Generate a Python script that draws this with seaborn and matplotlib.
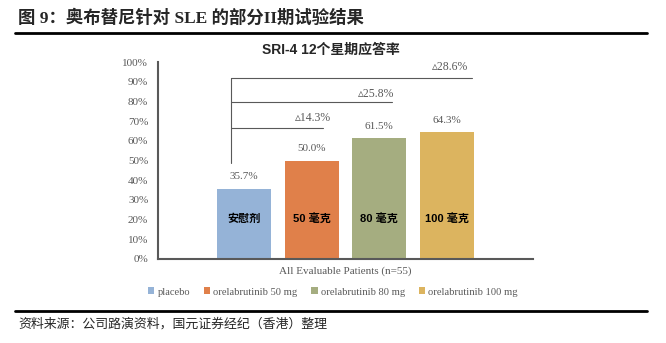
import matplotlib
matplotlib.use('Agg')
import matplotlib.pyplot as plt
import seaborn as sns
import pandas as pd
from matplotlib.patches import Patch
from matplotlib.lines import Line2D

# ---- data ----
categories = ['placebo', 'orelabrutinib 50 mg', 'orelabrutinib 80 mg', 'orelabrutinib 100 mg']
values = [35.7, 50.0, 61.5, 64.3]
bar_labels = ['安慰剂', '50 毫克', '80 毫克', '100 毫克']
delta_labels = ['▵14.3%', '▵25.8%', '▵28.6%']
yticks = [0, 10, 20, 30, 40, 50, 60, 70, 80, 90, 100]
ytick_labels = [f'{v}%' for v in yticks]
colors = ['#95B3D7', '#E0804A', '#A5AD80', '#DCB45F']

title = '图 9：奥布替尼针对 SLE 的部分II期试验结果'
chart_title = 'SRI-4 12个星期应答率'
xlabel = 'All Evaluable Patients (n=55)'
source = '资料来源：公司路演资料，国元证券经纪（香港）整理'

sns.set_style('white')
plt.rcParams['font.family'] = ['Liberation Serif', 'Noto Sans CJK SC', 'DejaVu Sans']

W, H = 666, 343
fig = plt.figure(figsize=(W / 100, H / 100), dpi=100)
ax = fig.add_axes([158 / W, 1 - 259 / H, 375 / W, 197 / H])

df = pd.DataFrame({'group': categories, 'value': values})
sns.barplot(data=df, x='group', y='value', hue='group', palette=colors,
            dodge=False, width=0.8, saturation=1, legend=False, ax=ax,
            linewidth=0)

ax.set_xlim(-1.27, 4.27)
ax.set_ylim(0, 100)
ax.set_yticks(yticks)
ax.set_yticklabels(ytick_labels)
ax.set_xticks([])
ax.set_ylabel('')
ax.set_xlabel(xlabel, fontsize=8, color='#595959', labelpad=5)

gray = '#595959'
for s in ['top', 'right']:
    ax.spines[s].set_visible(False)
for s in ['left', 'bottom']:
    ax.spines[s].set_color(gray)
    ax.spines[s].set_linewidth(1.5)
ax.tick_params(axis='y', direction='in', length=3, width=1, color=gray,
               labelsize=8, labelcolor=gray, pad=7)

# value labels
for i, v in enumerate(values):
    ax.text(i, v + 6, f'{v:.1f}%', ha='center', va='center', fontsize=8, color=gray)
# inside labels
for i, lab in enumerate(bar_labels):
    ax.text(i, 20.3, lab, ha='center', va='center', fontsize=8, weight='bold',
            color='black', family=['Liberation Sans', 'Noto Sans CJK SC'])

# brackets
bx = -0.19
levels = [66.5, 79.7, 91.9]
ends = [1.17, 2.19, 3.37]
ax.plot([bx, bx], [48.5, levels[-1]], color=gray, lw=0.8, clip_on=False)
for lv, e in zip(levels, ends):
    ax.plot([bx, e], [lv, lv], color=gray, lw=0.8, clip_on=False)
dpos = [(1.02, 71.6), (1.96, 83.8), (3.05, 97.5)]
for (x, y), lab in zip(dpos, delta_labels):
    ax.text(x, y, lab, ha='center', va='center', fontsize=8.5, color=gray,
            family=['Liberation Serif', 'DejaVu Sans'])

# titles
fig.text(18 / W, 1 - 18 / H, title, ha='left', va='center', fontsize=12.5,
         weight='bold', family=['Liberation Serif', 'Noto Sans CJK SC'])
fig.text(0.497, 1 - 50 / H, chart_title, ha='center', va='center', fontsize=10,
         weight='bold', family=['Liberation Sans', 'Noto Sans CJK SC'])

# rules
fig.add_artist(Line2D([15 / W, 647 / W], [1 - 32.5 / H] * 2, color='black', lw=2))
fig.add_artist(Line2D([15 / W, 647 / W], [1 - 311 / H] * 2, color='black', lw=2))

fig.text(18 / W, 1 - 324 / H, source, ha='left', va='center', fontsize=9.3,
         family=['Noto Sans CJK SC'])

# legend
handles = [Patch(facecolor=c, edgecolor='none') for c in colors]
leg = fig.legend(handles, categories, loc='center', bbox_to_anchor=(0.5, 1 - 292 / H),
                 ncol=4, frameon=False, fontsize=7.6, handlelength=0.6,
                 handleheight=0.6, handletextpad=0.3, columnspacing=1.3)
for t in leg.get_texts():
    t.set_color(gray)

fig.savefig('out.png', dpi=100)
